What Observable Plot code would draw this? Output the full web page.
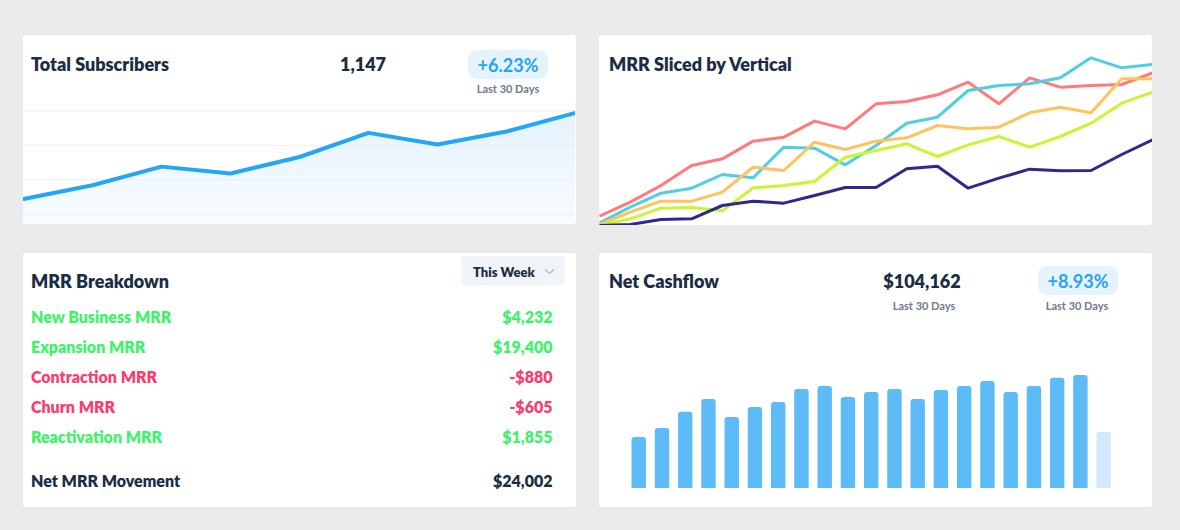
<!DOCTYPE html>
<html>
<head>
<meta charset="utf-8">
<script src="https://cdn.jsdelivr.net/npm/d3@7"></script>
<script src="https://cdn.jsdelivr.net/npm/@observablehq/plot@0.6"></script>
<style>
  html, body { margin:0; padding:0; background:#ebebeb; }
  body { width:1180px; height:530px; position:relative; overflow:hidden; font-family: Lato, "Open Sans", sans-serif; }
  .layer { position:absolute; left:0; top:0; pointer-events:none; }
  .chart { position:absolute; overflow:hidden; }
  .chart svg { display:block; max-width:none; background:transparent; }
</style>
</head>
<body>
<svg id="bg" class="layer" width="1180" height="530"></svg>
<script>
// ---------------- DATA ----------------
// Total Subscribers
const subsWeeks = [1, 2, 3, 4, 5, 6, 7, 8, 9];
const subscribers = [1022, 1042, 1069, 1059, 1083, 1118, 1101, 1120, 1147];
const subsGrid = [1000, 1050, 1100, 1150];
const subsTotal = "1,147";
const subsChange = "+6.23%";
const periodLabel = "Last 30 Days";

// MRR Sliced by Vertical
const mrrDays = [1, 2, 3, 4, 5, 6, 7, 8, 9, 10, 11, 12, 13, 14, 15, 16, 17, 18, 19];
const verticals = ["Retail", "Software", "Media", "Education", "Finance"];
const mrrRetail    = [5.6, 14.0, 24.0, 36.0, 40.0, 50.6, 53.0, 62.6, 58.0, 73.0, 74.4, 78.4, 86.0, 73.0, 88.6, 83.0, 84.0, 84.6, 91.6];
const mrrSoftware  = [1.6, 11.0, 19.4, 22.4, 30.6, 28.6, 47.0, 46.4, 36.4, 48.0, 61.4, 65.0, 81.0, 84.0, 85.0, 88.6, 100.6, 94.6, 96.6];
const mrrMedia     = [0.6, 8.0, 14.6, 14.6, 20.0, 35.0, 33.0, 50.0, 45.6, 50.6, 52.6, 60.0, 58.0, 59.0, 67.6, 71.0, 67.6, 88.0, 88.0];
const mrrEducation = [0.0, 4.0, 10.4, 10.8, 8.8, 22.6, 24.0, 26.4, 41.0, 45.0, 49.0, 41.4, 48.4, 53.4, 47.0, 53.4, 61.4, 73.4, 80.0];
const mrrFinance   = [0.0, 0.6, 3.6, 4.0, 12.0, 14.6, 13.4, 18.0, 22.8, 22.8, 34.0, 35.6, 22.4, 28.4, 33.8, 32.8, 33.0, 42.6, 51.4];
const verticalColors = ["#ff7b7b", "#4fcfe0", "#ffc35e", "#c9f532", "#2b2a8e"];

// MRR Breakdown
const breakdownLabels = ["New Business MRR", "Expansion MRR", "Contraction MRR", "Churn MRR", "Reactivation MRR"];
const breakdownValues = [4232, 19400, -880, -605, 1855];
const netLabel = "Net MRR Movement";
const periodChoice = "This Week";

// Net Cashflow
const cashDays = [1, 2, 3, 4, 5, 6, 7, 8, 9, 10, 11, 12, 13, 14, 15, 16, 17, 18, 19, 20, 21];
const cashflow = [2840, 3340, 4230, 4950, 3950, 4500, 4780, 5500, 5670, 5060, 5340, 5500, 4950, 5450, 5670, 5950, 5340, 5670, 6120, 6280, 3110];
const cashTotal = "$104,162";
const cashChange = "+8.93%";

// ---------------- STYLE ----------------
const NAVY = "#1b2d44";
const GREY = "#6d7a8b";
const GREEN = "#3ff26c";
const RED = "#fc3c6c";
const FONT = "Lato, 'Open Sans', sans-serif";
const HEAVY = 800;

// ---------------- BACKGROUND (panels) ----------------
const bg = d3.select("#bg");
const panels = [[23, 35, 553, 189], [599, 35, 553, 190], [23, 253, 553, 254], [599, 253, 553, 254]];
for (const [x, y, w, h] of panels) bg.append("rect").attr("x", x).attr("y", y).attr("width", w).attr("height", h).attr("rx", 3).attr("fill", "#fff");

function addChart(x, y, w, h, node) {
  const div = document.createElement("div");
  div.className = "chart";
  Object.assign(div.style, {left: x + "px", top: y + "px", width: w + "px", height: h + "px"});
  div.appendChild(node);
  document.body.appendChild(div);
}

// ---------------- Total Subscribers ----------------
const subsData = subsWeeks.map((w, i) => ({week: w, value: subscribers[i]}));
function subsGradient() {
  const defs = d3.create("svg:defs");
  const g = defs.append("linearGradient").attr("id", "subsGrad").attr("x1", 0).attr("x2", 0).attr("y1", 0).attr("y2", 1);
  g.append("stop").attr("offset", "0%").attr("stop-color", "#e4f2fd");
  g.append("stop").attr("offset", "100%").attr("stop-color", "#f9fcff");
  return defs.node();
}
addChart(23, 100, 552, 124, Plot.plot({
  width: 552, height: 124, margin: 0,
  x: {domain: [subsWeeks[0], subsWeeks[subsWeeks.length - 1]], axis: null},
  y: {domain: [985, 1165], axis: null},
  marks: [
    subsGradient,
    Plot.areaY(subsData, {x: "week", y1: 985, y2: "value", fill: "url(#subsGrad)"}),
    Plot.ruleY(subsGrid, {stroke: "#eceff2", strokeWidth: 1}),
    Plot.line(subsData, {x: "week", y: "value", stroke: "#24a5f7", strokeWidth: 4})
  ]
}));

// ---------------- MRR Sliced by Vertical ----------------
const mrrSeries = [mrrRetail, mrrSoftware, mrrMedia, mrrEducation, mrrFinance];
const mrrData = verticals.flatMap((v, k) => mrrDays.map((d, i) => ({vertical: v, day: d, value: mrrSeries[k][i]})));
addChart(599, 35, 553, 190, Plot.plot({
  width: 553, height: 190, marginTop: 20, marginBottom: 0, marginLeft: 0, marginRight: 0,
  x: {domain: [mrrDays[0], mrrDays[mrrDays.length - 1]], axis: null},
  y: {domain: [0, 102], axis: null},
  color: {domain: verticals, range: verticalColors},
  marks: [
    Plot.line(mrrData, {x: "day", y: "value", z: "vertical", stroke: "vertical", strokeWidth: 3, strokeLinejoin: "miter", strokeLinecap: "butt"})
  ]
}));

// ---------------- MRR Breakdown ----------------
const money = v => (v < 0 ? "-" : "") + "$" + d3.format(",")(Math.abs(v));
const rows = breakdownLabels.map((label, i) => ({label, value: breakdownValues[i]}));
const netValue = d3.sum(breakdownValues);
const rowColor = d => d.value < 0 ? RED : GREEN;
const textOpts = {fontFamily: FONT, fontWeight: HEAVY, fontSize: 16, lineAnchor: "bottom"};
addChart(23, 253, 553, 254, Plot.plot({
  width: 553, height: 254, marginTop: 67.5, marginBottom: 63.7, marginLeft: 7.5, marginRight: 24,
  x: {axis: null},
  y: {type: "point", domain: breakdownLabels, padding: 0, axis: null},
  color: {type: "identity"},
  marks: [
    Plot.text(rows, {...textOpts, y: "label", text: "label", frameAnchor: "left", textAnchor: "start", fill: rowColor}),
    Plot.text(rows, {...textOpts, y: "label", text: d => money(d.value), frameAnchor: "right", textAnchor: "end", fill: rowColor}),
    Plot.text([netLabel], {...textOpts, frameAnchor: "bottom-left", textAnchor: "start", text: d => d, fill: NAVY, dy: 43.5}),
    Plot.text([netValue], {...textOpts, frameAnchor: "bottom-right", textAnchor: "end", text: d => money(d), fill: NAVY, dy: 43.5})
  ]
}));

// ---------------- Net Cashflow ----------------
const cashData = cashDays.map((d, i) => ({day: d, value: cashflow[i], partial: i === cashDays.length - 1}));
addChart(599, 330, 553, 160, Plot.plot({
  width: 553, height: 160, marginTop: 32, marginBottom: 2, marginLeft: 23.7, marginRight: 32.3,
  x: {type: "band", domain: cashDays, padding: 0.38, round: false, axis: null},
  y: {domain: [0, 7000], axis: null},
  color: {type: "identity"},
  marks: [
    Plot.barY(cashData, {x: "day", y1: -300, y2: "value", rx: 3, clip: true, fill: d => d.partial ? "#d3e8fc" : "#5dbcf8"})
  ]
}));

// ---------------- TEXT OVERLAY ----------------
const fg = d3.select(document.body).append("svg").attr("class", "layer").attr("width", 1180).attr("height", 530);
function txt(x, y, s, size, fill, anchor = "start", weight = HEAVY) {
  fg.append("text").attr("x", x).attr("y", y).attr("font-size", size).attr("font-weight", weight)
    .attr("font-family", FONT).attr("fill", fill).attr("text-anchor", anchor).text(s);
}
function badge(cx, y, w, h) {
  fg.append("rect").attr("x", cx - w / 2).attr("y", y).attr("width", w).attr("height", h).attr("rx", 9).attr("fill", "#e4f3fe");
}
// Total Subscribers
txt(31, 71, "Total Subscribers", 18, NAVY);
txt(363, 71, subsTotal, 18, NAVY, "middle");
badge(508, 50, 80, 29);
txt(508, 72, subsChange, 18, "#27a4f5", "middle", 700);
txt(508, 93, periodLabel, 11, GREY, "middle", 700);
// MRR Sliced
txt(609, 71, "MRR Sliced by Vertical", 18, NAVY);
// MRR Breakdown
txt(31, 288, "MRR Breakdown", 18, NAVY);
fg.append("rect").attr("x", 461).attr("y", 256).attr("width", 104).attr("height", 29).attr("rx", 4).attr("fill", "#f1f4f8");
txt(473, 277, periodChoice, 13, NAVY);
fg.append("path").attr("d", "M545,269.5 l4.5,4 l4.5,-4").attr("fill", "none").attr("stroke", "#b3bbc6").attr("stroke-width", 1.3);
// Net Cashflow
txt(609, 288, "Net Cashflow", 18, NAVY);
txt(922, 288, cashTotal, 18, NAVY, "middle");
txt(924, 310, periodLabel, 11, GREY, "middle", 700);
badge(1078, 266, 80, 29);
txt(1078, 288, cashChange, 18, "#27a4f5", "middle", 700);
txt(1077, 310, periodLabel, 11, GREY, "middle", 700);
</script>
</body>
</html>
